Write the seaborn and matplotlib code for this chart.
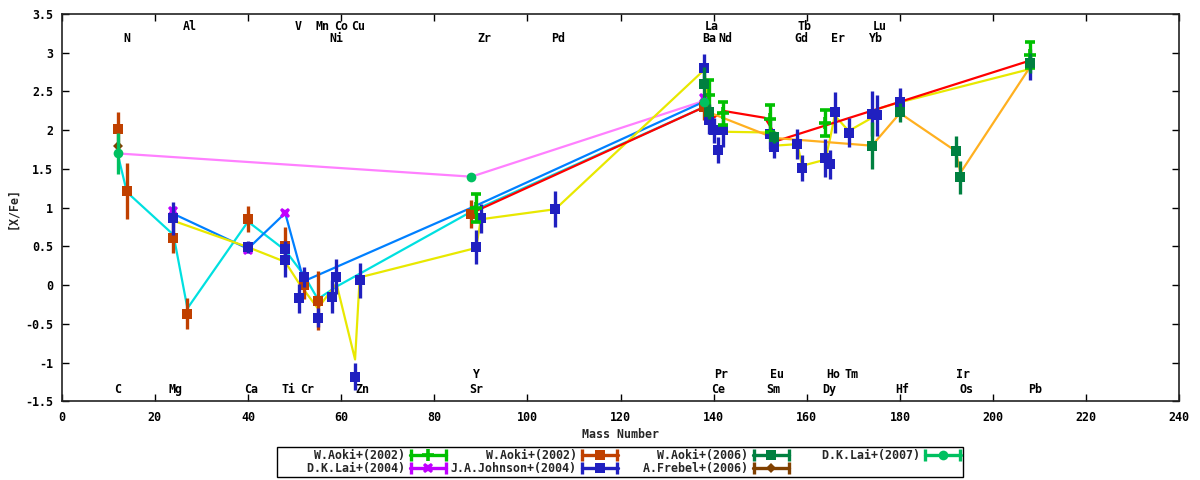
import numpy as np
import pandas as pd
import matplotlib
matplotlib.use("Agg")
import matplotlib.pyplot as plt
from matplotlib.lines import Line2D
from matplotlib.legend_handler import HandlerLine2D
from matplotlib.ticker import MultipleLocator, FuncFormatter
import seaborn as sns

# observed abundances: mass number, [X/Fe], error
aoki02a_x = [89, 139, 142, 152, 164, 208]
aoki02a_y = [1.00, 2.45, 2.22, 2.15, 2.09, 2.97]
aoki02a_err = [0.18, 0.20, 0.15, 0.17, 0.17, 0.17]

aoki02b_x = [12, 14, 24, 27, 40, 48, 52, 55, 88, 138]
aoki02b_y = [2.01, 1.21, 0.61, -0.37, 0.85, 0.50, 0.00, -0.20, 0.92, 2.30]
aoki02b_err = [0.22, 0.36, 0.20, 0.20, 0.17, 0.25, 0.18, 0.38, 0.18, 0.17]

aoki06_x = [138, 139, 153, 174, 180, 192, 193, 208]
aoki06_y = [2.60, 2.24, 1.91, 1.80, 2.23, 1.73, 1.39, 2.87]
aoki06_err = [0.22, 0.10, 0.08, 0.30, 0.12, 0.20, 0.21, 0.13]

lai07_x = [12, 88, 138]
lai07_y = [1.70, 1.40, 2.37]
lai07_err = [0.26, 0.03, 0.03]

lai04_x = [24, 40, 48, 138]
lai04_y = [0.96, 0.45, 0.93, 2.41]
lai04_err = [0.02, 0.02, 0.03, 0.02]

johnson_x = [24, 40, 48, 48, 51, 52, 55, 58, 59, 63, 64, 89, 90, 106,
             138, 139, 140, 141, 142, 152, 153, 158, 159, 164, 165, 166,
             169, 174, 175, 180, 208]
johnson_y = [0.86, 0.49, 0.47, 0.33, -0.17, 0.11, -0.42, -0.15, 0.11, -1.18, 0.06, 0.49, 0.86, 0.98,
             2.80, 2.13, 2.00, 1.74, 2.00, 1.95, 1.78, 1.82, 1.51, 1.64, 1.56, 2.23,
             1.97, 2.21, 2.19, 2.36, 2.85]
johnson_err = [0.21, 0.08, 0.10, 0.23, 0.19, 0.13, 0.12, 0.21, 0.23, 0.18, 0.23, 0.22, 0.19, 0.23,
               0.19, 0.18, 0.16, 0.17, 0.22, 0.19, 0.14, 0.19, 0.17, 0.24, 0.19, 0.26,
               0.19, 0.29, 0.27, 0.18, 0.20]

frebel_x = [12]
frebel_y = [1.79]
frebel_err = [0.03]

# model curves (no key entry)
pink_x = [12, 88, 138]
pink_y = [1.70, 1.40, 2.38]
cyan_x = [12, 14, 24, 27, 40, 48, 52, 55, 59, 88, 138]
cyan_y = [1.70, 1.20, 0.65, -0.30, 0.82, 0.45, 0.13, -0.18, -0.02, 0.95, 2.30]
dodger_x = [24, 40, 48, 52, 88, 138]
dodger_y = [0.92, 0.47, 0.93, 0.05, 1.00, 2.37]
yellow_x = [24, 40, 48, 51, 55, 59, 63, 64, 89, 90, 106, 138, 139, 140, 142, 152, 153,
            158, 159, 164, 165, 166, 169, 174, 175, 180, 208]
yellow_y = [0.83, 0.49, 0.30, 0.02, -0.30, 0.02, -0.96, 0.10, 0.48, 0.85, 0.98, 2.78, 2.20, 2.00,
            1.98, 1.97, 1.80, 1.82, 1.54, 1.62, 1.89, 2.19, 1.99, 2.16, 2.27, 2.36, 2.79]
red_x = [88, 138, 140, 142, 151, 154, 208]
red_y = [0.93, 2.30, 2.16, 2.25, 2.16, 1.87, 2.90]
orange_x = [139, 153, 174, 180, 192, 193, 208]
orange_y = [2.23, 1.90, 1.80, 2.22, 1.73, 1.45, 2.82]

# element tags
tag_text = ["Al", "V", "Mn", "Co", "Cu", "La", "Tb", "Lu",
            "N", "Ni", "Zr", "Pd", "Ba", "Nd", "Gd", "Er", "Yb",
            "Y", "Pr", "Eu", "Ho", "Tm", "Ir",
            "C", "Mg", "Ca", "Ti", "Cr", "Zn", "Sr", "Ce", "Sm", "Dy", "Hf", "Os", "Pb"]
tag_x = [27.5, 50.7, 55.9, 60.0, 63.6, 139.6, 159.6, 175.7,
         14.0, 58.9, 90.7, 106.6, 139.0, 142.6, 158.8, 166.7, 174.9,
         89.0, 141.6, 153.6, 165.6, 169.6, 193.5,
         12.1, 24.5, 40.6, 48.6, 52.7, 64.5, 89.0, 141.0, 152.9, 164.9, 180.6, 194.2, 209.0]
tag_y = [3.34] * 8 + [3.19] * 9 + [-1.16] * 6 + [-1.35] * 13

sns.set_style("ticks")
plt.rcParams["font.family"] = ["DejaVu Sans Mono"]
plt.rcParams["font.weight"] = "bold"
FS = 8.4

fig = plt.figure(figsize=(12, 4.8), dpi=100)
ax = fig.add_axes([61.7 / 1200, 1 - 401.3 / 480, (1179.3 - 61.7) / 1200, (401.3 - 14) / 480])

for lx, ly, c in [(pink_x, pink_y, "#ff80ff"), (cyan_x, cyan_y, "#00e0e0"),
                  (dodger_x, dodger_y, "#0080ff"), (yellow_x, yellow_y, "#e8e800"),
                  (red_x, red_y, "#ff0000"), (orange_x, orange_y, "#ffb020")]:
    sns.lineplot(x=lx, y=ly, ax=ax, color=c, lw=1.6, sort=False, estimator=None, zorder=2)

series = [
    # label, x, y, err, colour, marker, size, edge width, zorder
    ("W.Aoki+(2002)", aoki02a_x, aoki02a_y, aoki02a_err, "#00c000", "+", 8, 2.6, 5),
    ("D.K.Lai+(2004)", lai04_x, lai04_y, lai04_err, "#c000ff", "X", 7.5, 0, 3.5),
    ("W.Aoki+(2002)", aoki02b_x, aoki02b_y, aoki02b_err, "#c04000", "s", 6.8, 0, 3),
    ("J.A.Johnson+(2004)", johnson_x, johnson_y, johnson_err, "#2020c0", "s", 6.8, 0, 4),
    ("W.Aoki+(2006)", aoki06_x, aoki06_y, aoki06_err, "#008040", "s", 6.8, 0, 6),
    ("A.Frebel+(2006)", frebel_x, frebel_y, frebel_err, "#804000", "D", 5, 0, 8),
    ("D.K.Lai+(2007)", lai07_x, lai07_y, lai07_err, "#00c060", "o", 7, 0, 9),
]

handles, labels, hmap = [], [], {}
for name, sx, sy, se, c, mk, ms, mew, z in series:
    ax.errorbar(sx, sy, yerr=se, fmt=mk, color=c, ms=ms, mew=mew, elinewidth=2.4,
                capsize=3.6, capthick=2.4, zorder=z)
    bar = Line2D([], [], color=c, lw=2.4, marker=mk, ms=ms, mew=mew)
    caps = Line2D([], [], color=c, lw=0, marker="|", ms=8, mew=2.4)
    hmap[caps] = HandlerLine2D(numpoints=2, marker_pad=0.05)
    handles.append((bar, caps))
    labels.append(f"{name:>18}")

for t, x, y in zip(tag_text, tag_x, tag_y):
    ax.text(x, y, t, ha="center", va="center", fontsize=FS, color="black")

ax.set_xlim(0, 240)
ax.set_ylim(-1.5, 3.5)
ax.xaxis.set_major_locator(MultipleLocator(20))
ax.yaxis.set_major_locator(MultipleLocator(0.5))
ax.yaxis.set_major_formatter(FuncFormatter(lambda v, p: f"{v:g}"))
ax.tick_params(direction="in", top=True, right=True, length=5, width=1, labelsize=FS,
               colors="black")
ax.tick_params(axis="y", pad=6)
ax.tick_params(axis="x", pad=7)
for s in ax.spines.values():
    s.set_visible(True)
    s.set_color("#222222")
    s.set_linewidth(1.2)
ax.set_xlabel("")
ax.set_ylabel("")

fig.text(620.5 / 1200, 1 - 434 / 480, "Mass Number", ha="center", va="center", fontsize=FS)
fig.text(13 / 1200, 1 - 208 / 480, "[X/Fe]", ha="center", va="center", rotation=90, fontsize=FS)

leg = fig.legend(handles, labels, handler_map=hmap, loc="center",
                 bbox_to_anchor=(620 / 1200, 1 - 462 / 480), ncol=4, markerfirst=False,
                 fontsize=FS, handlelength=3.1, handletextpad=0.45, columnspacing=0.35,
                 labelspacing=0.05, borderpad=0.15, borderaxespad=0, frameon=True,
                 fancybox=False, framealpha=1, edgecolor="black", numpoints=1)
leg.get_frame().set_linewidth(1.0)

fig.savefig("out.png", dpi=100, facecolor="white")
